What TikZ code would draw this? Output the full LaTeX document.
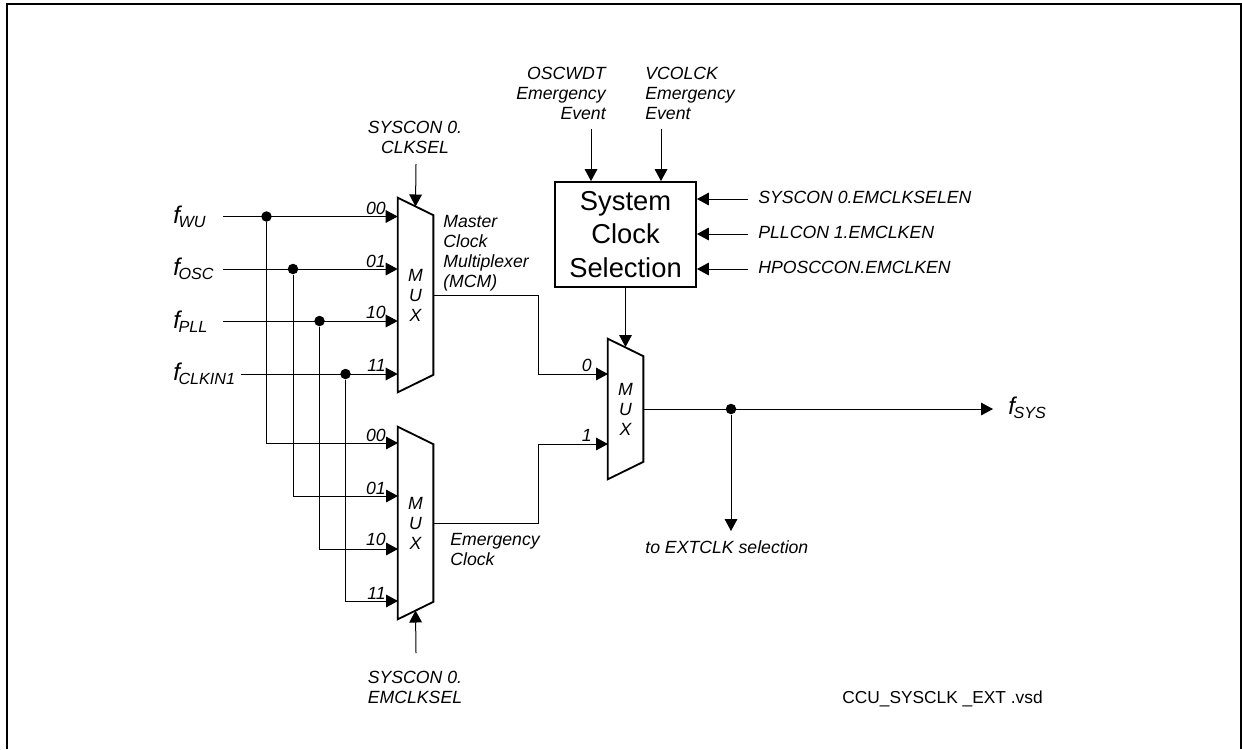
\documentclass[tikz,border=0pt]{standalone}
\usepackage{xcolor}
\usepackage{fontspec}
\setmainfont{Liberation Sans}
\usepackage{tikz}
\usetikzlibrary{arrows.meta}
\newcommand{\clk}[1]{{\fontsize{14.5}{16}\selectfont\itshape f}\kern-0.9pt\raisebox{-2.4pt}{\fontsize{9.7}{11}\selectfont\itshape #1}}
\newcommand{\muxshape}[1]{\draw[muxline] (#1.north west) -- ([yshift=-10.5pt]#1.north east) -- ([yshift=10.5pt]#1.south east) -- (#1.south west) -- cycle;}
\tikzset{
  lbl/.style={font=\fontsize{10.6}{12}\selectfont\itshape, inner sep=0pt},
  plain/.style={font=\fontsize{10.4}{12}\selectfont, inner sep=0pt},
  clklbl/.style={inner sep=0pt, anchor=base west},
  mux/.style={font=\fontsize{10.6}{12}\selectfont\itshape, inner sep=0pt, align=center, minimum width=21pt},
  muxline/.style={line width=1.1pt, line join=miter},
  ctrl/.style={draw, line width=1.1pt, inner sep=0pt, align=center, minimum width=84.6pt, minimum height=63pt,
    font=\fontsize{16.4}{20}\selectfont},
  wire/.style={line width=0.6pt},
  sig/.style={line width=0.6pt, -{Triangle[length=7.2pt,width=7.6pt]}},
  joint/.style={circle, fill=black, inner sep=0pt, minimum size=6.3pt},
}
\begin{document}
\begin{tikzpicture}[x=0.6pt, y=-0.6pt]
  \useasboundingbox (0,0) rectangle (1242,749);
  \draw[line width=1.2pt] (6.5,749) -- (6.5,4) -- (1240.5,4) -- (1240.5,749);

  % multiplexers
  \node[mux, minimum height=116.4pt] (mcm) at (415.5,295) {M\\U\\X};
  \node[mux, minimum height=115.2pt] (emc) at (415.5,523) {M\\U\\X};
  \node[mux, minimum height=84pt]    (sel) at (625.5,409) {M\\U\\X};
  \muxshape{mcm}
  \muxshape{emc}
  \muxshape{sel}
  \node[ctrl] (sysck) at (625.5,234.5) {System\\Clock\\Selection};

  % clock inputs
  \node[clklbl] (wu)  at (173,223) {\clk{WU}};
  \node[clklbl] (osc) at (173,275) {\clk{OSC}};
  \node[clklbl] (pll) at (173,328) {\clk{PLL}};
  \node[clklbl] (ckin) at (173,380) {\clk{CLKIN1}};
  \coordinate (wuout)  at (223,216.5);
  \coordinate (oscout) at (223,269);
  \coordinate (pllout) at (223,321);
  \coordinate (ckout)  at (241,374);
  \node[joint] (jwu)  at (266.5,216.5) {};
  \node[joint] (josc) at (293,269) {};
  \node[joint] (jpll) at (319.5,321) {};
  \node[joint] (jck)  at (345.5,374) {};
  \coordinate (emc00) at (398,443);
  \coordinate (emc01) at (398,496);
  \coordinate (emc10) at (398,549);
  \coordinate (emc11) at (398,601);

  \draw[sig] (wuout)  -- (mcm.west |- wuout);
  \draw[sig] (oscout) -- (mcm.west |- oscout);
  \draw[sig] (pllout) -- (mcm.west |- pllout);
  \draw[sig] (ckout)  -- (mcm.west |- ckout);
  \draw[sig] (jwu)  |- (emc00);
  \draw[sig] (josc) |- (emc01);
  \draw[sig] (jpll) |- (emc10);
  \draw[sig] (jck)  |- (emc11);

  \node[lbl, anchor=base east] (a00) at (386,214) {00};
  \node[lbl, anchor=base east] (a01) at (386,267) {01};
  \node[lbl, anchor=base east] (a10) at (386,318) {10};
  \node[lbl, anchor=base east] (a11) at (386,371) {11};
  \node[lbl, anchor=base east] (b00) at (386,441) {00};
  \node[lbl, anchor=base east] (b01) at (386,494) {01};
  \node[lbl, anchor=base east] (b10) at (386,545) {10};
  \node[lbl, anchor=base east] (b11) at (386,599) {11};

  % selects
  \node[lbl, align=center, anchor=base] (clksel) at (415,153) {SYSCON 0.\\CLKSEL};
  \coordinate (clkselout) at (416,164);
  \draw[sig] (clkselout) -- ([yshift=-5.3pt]mcm.north);
  \node[lbl, align=center, anchor=base] (emsel) at (415,703) {SYSCON 0.\\EMCLKSEL};
  \coordinate (emselout) at (416,653);
  \draw[sig] (emselout) -- ([yshift=5.3pt]emc.south);

  % second stage
  \node[lbl, align=left, anchor=base west] (mcmtxt) at (443,287.5) {Master\\Clock\\Multiplexer\\(MCM)};
  \node[lbl, align=left, anchor=base west] (emctxt) at (450,565) {Emergency\\Clock};
  \coordinate (sel0) at (608,374);
  \coordinate (sel1) at (608,444);
  \draw[sig] (mcm.east) -| (538,374) -- (sel0);
  \draw[sig] (emc.east) -| (538,444) -- (sel1);
  \node[lbl, anchor=base east] (s0) at (592,371) {0};
  \node[lbl, anchor=base east] (s1) at (592,441) {1};
  \draw[sig] (sysck.south) -- ([yshift=-5pt]sel.north);

  % emergency events
  \node[lbl, align=right, anchor=base east] (oscev) at (606,119) {OSCWDT\\Emergency\\Event};
  \node[lbl, align=left, anchor=base west] (vcoev) at (645,119) {VCOLCK\\Emergency\\Event};
  \coordinate (oscevout) at (591,129);
  \coordinate (vcoevout) at (661,129);
  \draw[sig] (oscevout) -- (sysck.north -| oscevout);
  \draw[sig] (vcoevout) -- (sysck.north -| vcoevout);

  % enables
  \node[lbl, anchor=base west] (en0) at (758,203) {SYSCON 0.EMCLKSELEN};
  \node[lbl, anchor=base west] (en1) at (758,238) {PLLCON 1.EMCLKEN};
  \node[lbl, anchor=base west] (en2) at (758,273) {HPOSCCON.EMCLKEN};
  \coordinate (en0out) at (748,199);
  \coordinate (en1out) at (748,234);
  \coordinate (en2out) at (748,269);
  \draw[sig] (en0out) -- (sysck.east |- en0out);
  \draw[sig] (en1out) -- (sysck.east |- en1out);
  \draw[sig] (en2out) -- (sysck.east |- en2out);

  % output
  \node[joint] (jsys) at (731,409) {};
  \coordinate (sysend) at (993,409);
  \coordinate (extend) at (731,531);
  \draw[sig] (sel.east) -- (sysend);
  \draw[sig] (jsys) -- (extend);
  \node[clklbl] (fsys) at (1008,414) {\clk{SYS}};
  \node[lbl, anchor=base west] (exttxt) at (645,553) {to EXTCLK selection};
  \node[plain, anchor=base west] (file) at (842,703) {CCU\_SYSCLK \_EXT .vsd};
\end{tikzpicture}
\end{document}
